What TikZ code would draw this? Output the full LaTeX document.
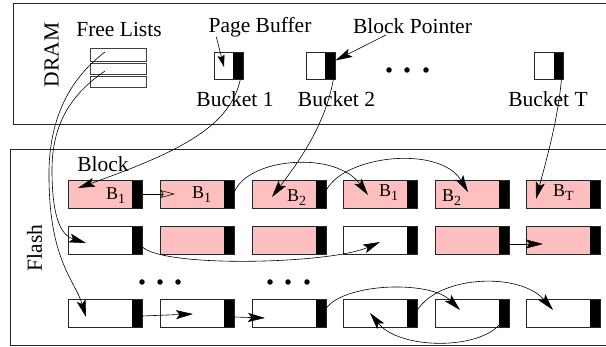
\documentclass[tikz,border=0pt]{standalone}
\usepackage{fontspec}
\setmainfont{Liberation Serif}
\usetikzlibrary{arrows.meta,calc}
\definecolor{pinkfill}{RGB}{255,191,191}
\begin{document}
\begin{tikzpicture}[x=1pt,y=-1pt,
  lbl/.style={inner sep=0pt, font=\fontsize{21.5}{24}\selectfont},
  blab/.style={inner sep=0pt, anchor=base west, font=\fontsize{18}{20}\selectfont},
  frame/.style={draw=black!85, line width=0.8pt},
  blk/.style={draw=black!85, line width=0.8pt, minimum width=74pt, minimum height=28pt, inner sep=0pt, fill=white,
    path picture={\fill[black] ([xshift=-10pt]path picture bounding box.north east) rectangle (path picture bounding box.south east);}},
  pinkblk/.style={blk, fill=pinkfill},
  bucket/.style={blk, minimum width=29pt, minimum height=27pt},
  flrect/.style={draw=black!75, line width=0.8pt, minimum width=56pt, inner sep=0pt},
  arr/.style={-{Stealth[length=17pt,width=9pt,inset=3.5pt]}, line width=0.6pt},
  sarr/.style={-{Stealth[length=12pt,width=7pt,inset=2pt]}, line width=0.6pt},
  oarr/.style={-{Stealth[open,length=15pt,width=8pt,inset=3pt]}, line width=0.6pt},
  dot/.style={circle, fill=black, inner sep=0pt, minimum size=5.5pt}
]
\useasboundingbox (0,0) rectangle (606,347);
% frames
\draw[frame] (13,3) rectangle (610,124);
\draw[frame] (10,149) rectangle (610,345);
\node[lbl, rotate=90] (dram) at (51.5,55) {DRAM};
\node[lbl, rotate=90] (flash) at (34.5,248) {Flash};
% DRAM content
\node[lbl, anchor=base] (fltext) at (119,37) {Free Lists};
\node[flrect, minimum height=13pt] (fl1) at (118,54.5) {};
\node[flrect, minimum height=11pt] (fl2) at (118,68.5) {};
\node[flrect, minimum height=11pt] (fl3) at (118,81.5) {};
\node[lbl, anchor=base] (pb) at (260,33) {Page Buffer};
\node[lbl, anchor=base] (bp) at (412.5,34) {Block Pointer};
\node[bucket] (b1) at (228.5,65.5) {};
\node[bucket] (b2) at (320.5,65.5) {};
\node[bucket] (bT) at (549,65.5) {};
\node[lbl, anchor=base] (b1t) at (235,107) {Bucket 1};
\node[lbl, anchor=base] (b2t) at (336.5,107) {Bucket 2};
\node[lbl, anchor=base] (bTt) at (548,107) {Bucket T};
\node[dot] (d1) at (389,70) {};
\node[dot] (d2) at (407,70) {};
\node[dot] (d3) at (426,70) {};
% Flash content
\node[lbl, anchor=base] (blocktext) at (103,172) {Block};
% row 1
\node[pinkblk] (r1c1) at (105,194) {};
\node[pinkblk] (r1c2) at (197,194) {};
\node[pinkblk] (r1c3) at (289,194) {};
\node[pinkblk] (r1c4) at (380,194) {};
\node[pinkblk] (r1c5) at (472,194) {};
\node[pinkblk] (r1c6) at (563,194) {};
% row 2
\node[blk] (r2c1) at (105,240) {};
\node[pinkblk] (r2c2) at (197,240) {};
\node[pinkblk] (r2c3) at (289,240) {};
\node[blk] (r2c4) at (380,240) {};
\node[pinkblk] (r2c5) at (472,240) {};
\node[pinkblk] (r2c6) at (563,240) {};
% row 3
\node[blk] (r3c1) at (105,313) {};
\node[blk] (r3c2) at (197,313) {};
\node[blk] (r3c3) at (289,313) {};
\node[blk] (r3c4) at (380,313) {};
\node[blk] (r3c5) at (472,313) {};
\node[blk] (r3c6) at (563,313) {};
% labels
\newcommand{\subl}[1]{\raisebox{-4pt}{\fontsize{14}{14}\selectfont #1}}
\node[blab] (l1) at (106,200) {B\subl{1}};
\node[blab] (l2) at (192,199) {B\subl{1}};
\node[blab] (l3) at (287,202) {B\subl{2}};
\node[blab] (l4) at (379,197) {B\subl{1}};
\node[blab] (l5) at (442,202) {B\subl{2}};
\node[blab] (l6) at (553,197) {B\subl{T}};
% dots
\node[dot] (e1) at (142,282) {};
\node[dot] (e2) at (160,282) {};
\node[dot] (e3) at (178,282) {};
\node[dot] (e4) at (270,282) {};
\node[dot] (e5) at (288,282) {};
\node[dot] (e6) at (307,282) {};
% DRAM arrows
\draw[sarr] ($(pb.base west)+(8,4)$) -- ($(b1.center)+(-4.5,1.5)$);
\draw[arr] ($(bp.base west)+(33,1)$) -- ($(b2.east)+(0,-5)$);
\draw[arr] ($(b1.south east)+(-3,0)$) .. controls (230,125) and (185,150) .. ($(r1c1.center)+(-27,-6)$);
\draw[arr] ($(b2.south east)+(-2,0)$) .. controls (325,125) and (300,160) .. ($(r1c3.center)+(-17,3)$);
\draw[arr] ($(bT.south east)+(-2.5,0)$) .. controls (558,120) and (545,165) .. ($(r1c6.center)+(-27,5)$);
% free lists
\draw[arr] ($(fl1.center)+(-13,-2.5)$) .. controls (68,80) and (50,120) .. (49,170)
   .. controls (48,260) and (75,280) .. ($(r3c1.center)+(-19,4)$);
\draw[arr] ($(fl2.center)+(-13,2.5)$) .. controls (70,95) and (52,125) .. (52,170)
   .. controls (52,215) and (60,235) .. ($(r2c1.center)+(-19,3)$);
% row 1 chains
\draw[oarr] (r1c1.east) -- ($(r1c2.center)+(-22,0)$);
\draw[arr] ($(r1c2.east)+(0,-2)$) .. controls (248,158) and (335,150) .. ($(r1c4.center)+(-12,1)$);
\draw[arr] ($(r1c3.east)+(0,-4)$) .. controls (345,155) and (440,145) .. ($(r1c5.center)+(-4,-2)$);
% row 2
\draw[arr] ($(r2c1.east)+(0,7)$) .. controls (165,268) and (330,264) .. ($(r2c4.center)+(0,2)$);
\draw[arr] ($(r2c5.east)+(0,4)$) -- ($(r2c6.center)+(-20,4)$);
% row 3
\draw[arr] ($(r3c1.east)+(0,3)$) -- ($(r3c2.center)+(-4,1)$);
\draw[arr] ($(r3c2.east)+(0,4)$) -- ($(r3c3.center)+(-24,5)$);
\draw[arr] ($(r3c3.east)+(0,-5)$) .. controls (345,283) and (430,280) .. ($(r3c5.center)+(-12,-3)$);
\draw[arr] ($(r3c4.east)+(0,-3)$) .. controls (440,275) and (520,272) .. ($(r3c6.center)+(-10,-3)$);
\draw[arr] ($(r3c5.south east)+(-9,-4)$) .. controls (480,350) and (400,350) .. ($(r3c4.center)+(-10,0)$);
\end{tikzpicture}
\end{document}
